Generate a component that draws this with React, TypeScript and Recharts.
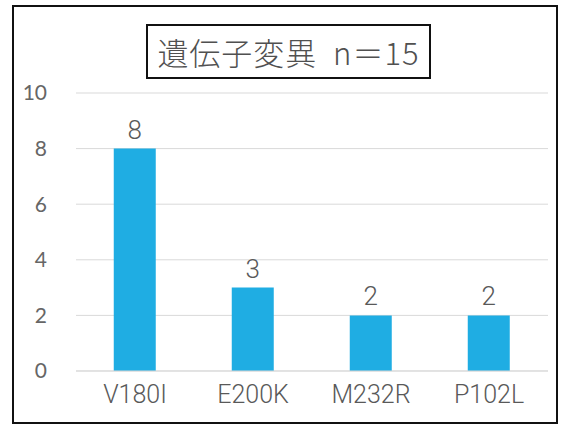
import { BarChart, Bar, XAxis, YAxis, CartesianGrid, LabelList } from "recharts";

const mutations = ["V180I", "E200K", "M232R", "P102L"];
const counts = [8, 3, 2, 2];
const yTicks = [0, 2, 4, 6, 8, 10];
const title = "遺伝子変異  n＝15";

const chartData = mutations.map((name, i) => ({ name, count: counts[i] }));

const textGray = "#595959";

export default function App() {
  return (
    <div
      style={{
        position: "absolute",
        left: 0,
        top: 0,
        width: 565,
        height: 428,
        background: "#fff",
      }}
    >
      {/* outer frame */}
      <div
        style={{
          position: "absolute",
          left: 12,
          top: 5,
          width: 546,
          height: 419,
          border: "2px solid #111",
          boxSizing: "border-box",
        }}
      />
      <div style={{ position: "absolute", left: 0, top: 0 }}>
        <BarChart
          width={565}
          height={428}
          data={chartData}
          margin={{ top: 93, right: 17, left: 0, bottom: 27 }}
          barCategoryGap="32%"
        >
          <CartesianGrid vertical={false} stroke="#d9d9d9" strokeWidth={1} />
          <XAxis
            dataKey="name"
            height={30}
            axisLine={{ stroke: "#d9d9d9" }}
            tickLine={false}
            tickMargin={8}
            tick={{ fontSize: 25, fill: textGray, fontFamily: "Roboto, sans-serif", fontWeight: 300 }}
          />
          <YAxis
            width={76}
            domain={[0, 10]}
            ticks={yTicks}
            interval={0}
            axisLine={false}
            tickLine={false}
            tickMargin={23}
            tick={{ fontSize: 21, fill: "#666", fontFamily: "Lato, sans-serif" }}
          />
          <Bar dataKey="count" fill="#1fade3" isAnimationActive={false}>
            <LabelList
              dataKey="count"
              position="top"
              offset={10}
              style={{ fontSize: 26, fill: textGray, fontFamily: "Roboto, sans-serif", fontWeight: 300 }}
            />
          </Bar>
        </BarChart>
      </div>
      {/* title box */}
      <div
        style={{
          position: "absolute",
          left: 146,
          top: 24,
          width: 285,
          height: 55,
          border: "2px solid #111",
          boxSizing: "border-box",
          display: "flex",
          alignItems: "center",
          justifyContent: "center",
          fontFamily: "'Noto Sans CJK JP', sans-serif",
          fontWeight: 300,
          fontSize: 31,
          letterSpacing: 1,
          color: "#505050",
          whiteSpace: "pre",
        }}
      >
        {title}
      </div>
    </div>
  );
}
